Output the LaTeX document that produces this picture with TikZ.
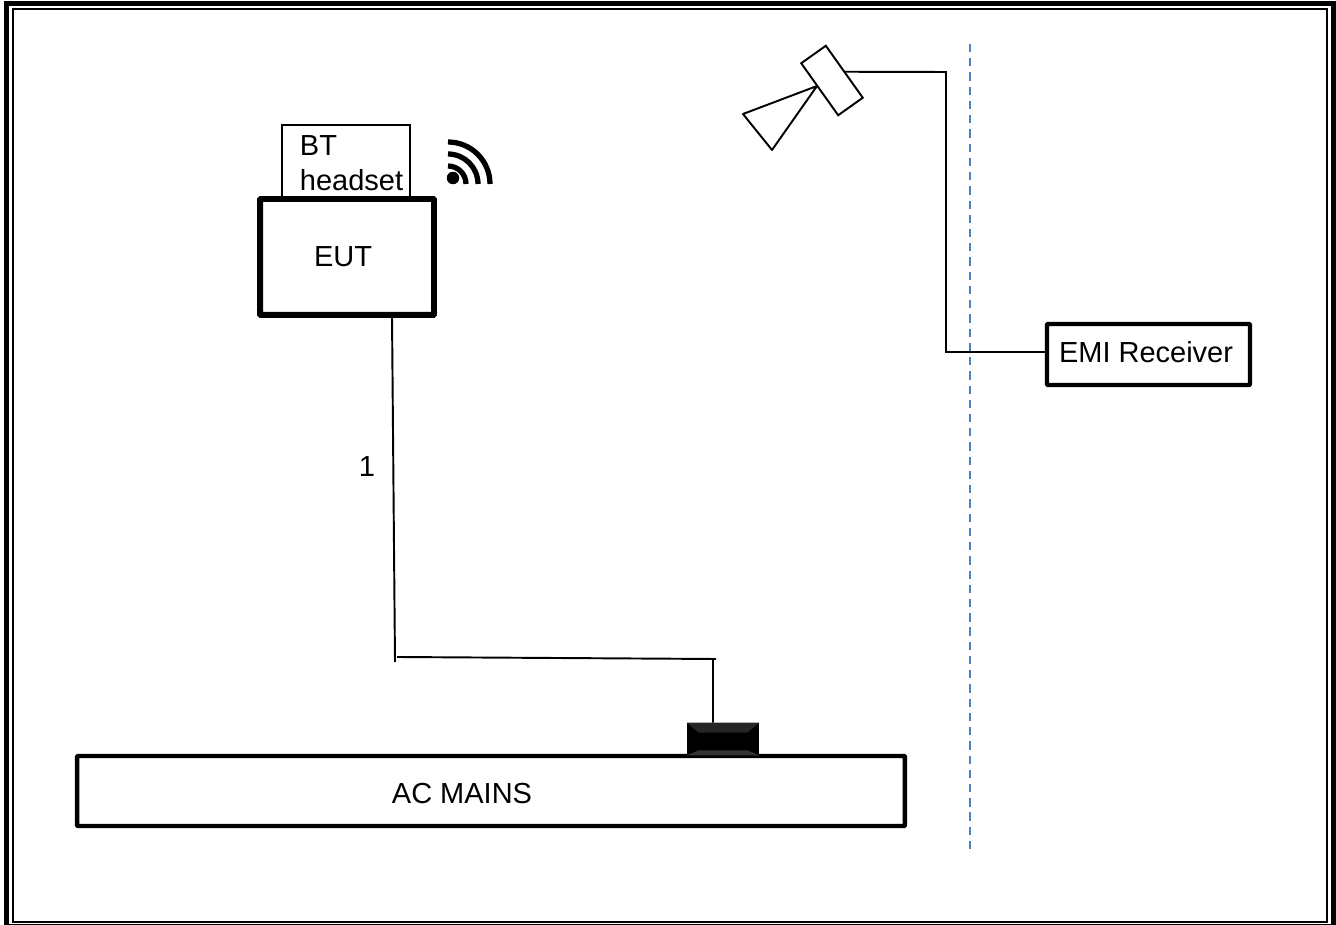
\documentclass[tikz,border=0pt]{standalone}
\usepackage{fontspec}
\setmainfont{Liberation Sans}
\usetikzlibrary{positioning}

\definecolor{wallblue}{HTML}{4F81BD}

\begin{document}
\begin{tikzpicture}[x=0.02cm, y=-0.02cm, font=\fontsize{16.5}{19.8}\selectfont,
    wire/.style={line width=1.1pt, black},
    thinbox/.style={draw, line width=1.1pt, inner sep=0pt, outer sep=0pt},
    thickbox/.style={draw, line width=2.5pt, inner sep=0pt, outer sep=0pt, rounded corners=0.5pt}]
    \useasboundingbox (0,0) rectangle (1336,925);
    % page frame
    \draw[line width=2.9pt] (6.5,3.5) rectangle (1333.5,926.5);
    \draw[line width=1.1pt] (13,9) rectangle (1327,922);
    % boxes
    \node[thinbox, minimum width=2.56cm, minimum height=1.44cm, align=left] (bt) at (346,161)
      {\hspace*{0.22cm}\rule{0pt}{0.476cm}BT\\\hspace*{0.22cm}headset};
    \node[thickbox, line width=3.4pt, minimum width=3.48cm, minimum height=2.32cm] (eut) at (347,257)
      {EUT\hspace*{0.16cm}};
    \node[thickbox, minimum width=4.06cm, minimum height=1.22cm] (emi) at (1148.5,354.5)
      {\raisebox{0.08cm}{EMI Receiver}\hspace*{0.1cm}};
    \node[thickbox, minimum width=16.56cm, minimum height=1.4cm, text height=0.5cm] (mains) at (491,791)
      {AC MAINS\hspace*{1.16cm}};
    % wall socket
    \node[fill=black, inner sep=0pt, minimum width=1.44cm, minimum height=0.64cm] (plug) at (723,739) {};
    \fill[black!85] (plug.north west) -- (plug.north east) -- ([xshift=-0.24cm, yshift=-0.2cm]plug.north east)
      -- ([xshift=0.24cm, yshift=-0.2cm]plug.north west) -- cycle;
    \fill[black!80] (plug.south west) -- (plug.south east) -- ([xshift=-0.24cm, yshift=0.1cm]plug.south east)
      -- ([xshift=0.24cm, yshift=0.1cm]plug.south west) -- cycle;
    % power cable
    \coordinate (kneeA) at (395,662);
    \coordinate (kneeB) at (397,657);
    \coordinate (kneeC) at (716,659);
    \coordinate (kneeD) at (713,659);
    \draw[wire] ([xshift=0.9cm]eut.south) -- (kneeA);
    \draw[wire] (kneeB) -- (kneeC);
    \draw[wire] (kneeD) -- ([xshift=-0.2cm]plug.north);
    \node (cable) at (367,467) {1};
    % antenna
    \node[thinbox, rotate=-54.6, minimum width=1.276cm, minimum height=0.604cm] (horn) at (832,80.5) {};
    \coordinate (hornA) at (743,114);
    \coordinate (hornB) at (772,150);
    \coordinate (hornC) at (817,86);
    \draw[wire, line join=round] (hornC) -- (hornA) -- (hornB) -- cycle;
    \coordinate (feedA) at (946,72);
    \draw[wire] (horn.north) -- (feedA) |- ([yshift=0.05cm]emi.west);
    % chamber wall
    \coordinate (wallT) at (970,44);
    \coordinate (wallB) at (970,851);
    \draw[wallblue, line width=1pt, dash pattern=on 4.7pt off 3.4pt] (wallT) -- (wallB);
    % radio waves
    \node[circle, fill=black, inner sep=0pt, minimum size=0.25cm] (dot) at (453,178) {};
    \foreach \r in {18,30,42} {
      \draw[line width=3pt] (448,184-\r) arc[start angle=-90, end angle=0, radius=\r];
    }
\end{tikzpicture}
\end{document}
